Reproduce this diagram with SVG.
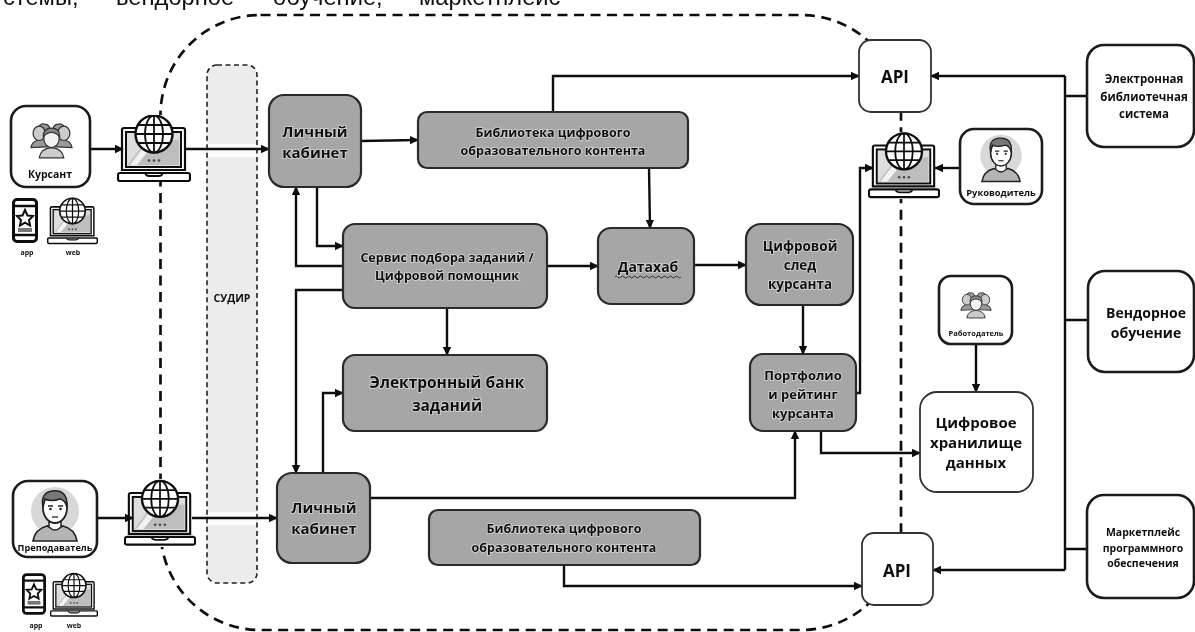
<svg xmlns="http://www.w3.org/2000/svg" width="1195" height="632" viewBox="0 0 1195 632">
<style>
text{font-family:"Open Sans","DejaVu Sans",sans-serif;font-weight:700;fill:#111;text-anchor:middle}
.top{font-family:"Liberation Sans",Arial,sans-serif;font-weight:400;font-size:23.7px;text-anchor:start;fill:#111}
.g{fill:#a6a6a6;stroke:#2a2a2a;stroke-width:2.2}
.g~text{paint-order:stroke;stroke:#d8d8d8;stroke-width:1.6px}
.w{fill:#fff;stroke:#1a1a1a;stroke-width:2.6}
.t{fill:#fff;stroke:#333;stroke-width:1.8}
.c{fill:none;stroke:#111;stroke-width:2.4;stroke-linejoin:miter}
.a{marker-end:url(#ah)}
.d{fill:none;stroke:#111;stroke-width:2.7;stroke-dasharray:10 6.5}
.s{fill:#ececec;stroke:#222;stroke-width:1.6;stroke-dasharray:5 3.5}
</style>
<defs>
<filter id="soft" x="0" y="0" width="100%" height="100%"><feGaussianBlur stdDeviation="0.45"/></filter>
<marker id="ah" markerUnits="userSpaceOnUse" markerWidth="10" markerHeight="10" refX="8" refY="5" orient="auto"><path d="M0 0.8L9 5L0 9.2z" fill="#111"/></marker>
<symbol id="laptop" viewBox="0 0 74 67">
<rect x="-1" y="-4" width="76" height="76" fill="#fff"/>
<path d="M5 55V15q0-2 2-2H66q2 0 2 2V55z" fill="#fff" stroke="#111" stroke-width="2.2"/>
<rect x="9" y="17" width="55" height="35" fill="#ddd" stroke="#111" stroke-width="2"/>
<path d="M11 50L30 25H62V50z" fill="#bdbdbd"/><path d="M13 50L28 30H36L20 50z" fill="#f2f2f2"/>
<rect x="1" y="58" width="72" height="8" rx="2" fill="#fff" stroke="#111" stroke-width="2.2"/>
<path d="M28 58q1 3 4 3H42q3 0 4-3" fill="none" stroke="#111" stroke-width="1.8"/>
<circle cx="37" cy="19" r="18.5" fill="#fff" stroke="#111" stroke-width="2.4"/>
<g fill="none" stroke="#111" stroke-width="1.8"><ellipse cx="37" cy="19" rx="9" ry="18.5"/><path d="M37 .5V37.500M18.500 19H55.500M21 10H53M21 28H53"/></g>
<g fill="#444"><circle cx="32" cy="45.500" r="1.300"/><circle cx="37" cy="45.500" r="1.300"/><circle cx="42" cy="45.500" r="1.300"/></g>
</symbol>
<symbol id="phone" viewBox="0 0 26 45">
<rect x="1.500" y="1.500" width="23" height="42" rx="3.500" fill="#fff" stroke="#111" stroke-width="3"/>
<path d="M2 8H24M2 37H24" stroke="#111" stroke-width="2.400"/>
<path d="M13 12l2.500 5.500 5.500.5-4 4 1 5.500-5-2.800-5 2.800 1-5.500-4-4 5.500-.5z" fill="#fff" stroke="#111" stroke-width="2"/>
<rect x="6" y="30" width="14" height="4" fill="#777"/>
</symbol>
<symbol id="man" viewBox="0 0 60 60">
<circle cx="30" cy="26" r="24" fill="#d8d8d8"/>
<path d="M8 56q2-12 14-15l8 3 8-3q12 3 14 15z" fill="#b5b5b5" stroke="#222" stroke-width="1.700"/>
<path d="M24 33V42q6 6 12 0V33" fill="#fff" stroke="#222" stroke-width="1.500"/>
<ellipse cx="30" cy="23" rx="12" ry="15" fill="#fff" stroke="#222" stroke-width="1.800"/>
<path d="M18 22Q15 8 27 6Q43 4 42 22Q40 15 35 14Q26 17 20 14Q19 17 18 22z" fill="#777" stroke="#222" stroke-width="1.500"/>
<path d="M23 21h5M33 21h5" stroke="#222" stroke-width="1.500"/><circle cx="25.500" cy="24" r="1.300" fill="#222"/><circle cx="35.500" cy="24" r="1.300" fill="#222"/><path d="M27 32h6" stroke="#222" stroke-width="1.300"/>
</symbol>
<symbol id="trio" viewBox="0 0 42 36">
<g stroke="#333" stroke-width="1.200">
<path d="M1 25q1-6 6-7V8q2-7 7-6 6 0 6 8v14z" fill="#9a9a9a"/><path d="M41 25q-1-6-6-7V8q-2-7-7-6-6 0-6 8v14z" fill="#9a9a9a"/>
<ellipse cx="9" cy="11" rx="6" ry="7" fill="#ccc"/><ellipse cx="33" cy="11" rx="6" ry="7" fill="#ccc"/>
<path d="M9 35q1-9 12-10 11 1 12 10z" fill="#ccc"/>
<ellipse cx="21" cy="16" rx="7.500" ry="9" fill="#f2f2f2"/>
<path d="M13 14q0-8 8-8 8 0 8 8-4-4-8-4-4 0-8 4z" fill="#888"/>
</g>
</symbol>
</defs>
<g filter="url(#soft)">
<rect width="1195" height="632" fill="#fff"/>
<text class="top" y="5"><tspan x="3">стемы,</tspan><tspan x="116">вендорное</tspan><tspan x="273">обучение,</tspan><tspan x="419">маркетплейс</tspan></text>
<g id="boundary"><rect class="d" x="160.500" y="15" width="740.500" height="615" rx="100" ry="100"/></g>
<g id="sudir"><rect class="s" x="207" y="65" width="50" height="518" rx="10"/><rect x="208" y="144" width="48" height="13" fill="#fafafa"/><rect x="208" y="512" width="48" height="13" fill="#fafafa"/><text x="232" y="302" font-size="10.500">СУДИР</text></g>
<g id="laptop-kursant"><use href="#laptop" x="117" y="115" width="74" height="67"/></g>
<g id="laptop-prepod"><use href="#laptop" x="124" y="479" width="72" height="68"/></g>
<g id="laptop-ruk"><use href="#laptop" x="868" y="132" width="72" height="67"/></g>
<g id="connectors">
<path class="c a" d="M90 149H123"/><path class="c a" d="M185 149H269"/>
<path class="c a" d="M97 518H133"/><path class="c a" d="M192 518H277"/>
<path class="c a" d="M361 141L418 140"/>
<path class="c a" d="M553 112V76H859"/>
<path class="c a" d="M649 168L650 228"/>
<path class="c a" d="M317 187V246H343"/>
<path class="c a" d="M343 266H296V187"/>
<path class="c a" d="M343 290H296V473"/>
<path class="c a" d="M547 266H598"/>
<path class="c a" d="M447 308V355"/>
<path class="c a" d="M323 473V393H343"/>
<path class="c a" d="M694 265H746"/>
<path class="c a" d="M803 305V354"/>
<path class="c a" d="M856 393H860V168H873"/>
<path class="c a" d="M370 498H795V431"/>
<path class="c a" d="M821 431V453H920"/>
<path class="c a" d="M976 344V392"/>
<path class="c a" d="M960 168H935"/>
<path class="c a" d="M564 565V586H862"/>
<path class="c" d="M1065 76V570"/>
<path class="c a" d="M1065 76H931"/><path class="c a" d="M1065 570H933"/>
<path class="c" d="M1087 96H1065M1088 320H1065M1087 549H1065"/>
</g>
<g id="kursant"><rect class="w" x="11" y="106" width="79" height="81" rx="15"/><use href="#trio" x="30" y="122" width="43" height="37"/><text x="50" y="178" font-size="10.500">Курсант</text></g>
<g id="app-kursant"><use href="#phone" x="12" y="198" width="26" height="45"/><text x="27" y="255" font-size="7">app</text></g>
<g id="web-kursant"><use href="#laptop" x="47" y="197" width="51" height="48"/><text x="73" y="255" font-size="7">web</text></g>
<g id="prepod"><rect class="w" x="13" y="481" width="84" height="76" rx="15"/><use href="#man" x="25" y="485" width="60" height="60"/><text x="55" y="551" font-size="9.200">Преподаватель</text></g>
<g id="app-prepod"><use href="#phone" x="22" y="573" width="24" height="42"/><text x="36" y="628" font-size="7">app</text></g>
<g id="web-prepod"><use href="#laptop" x="50" y="572" width="48" height="46"/><text x="74" y="628" font-size="7">web</text></g>
<g id="lk1"><rect class="g" x="269" y="95" width="92" height="92" rx="15"/><text x="315" y="137" font-size="15">Личный</text><text x="315" y="158" font-size="15">кабинет</text></g>
<g id="lib1"><rect class="g" x="418" y="112" width="270" height="56" rx="9"/><text x="553" y="137" font-size="12.500">Библиотека цифрового</text><text x="553" y="155" font-size="12.500">образовательного контента</text></g>
<g id="servis"><rect class="g" x="343" y="224" width="204" height="84" rx="12"/><text x="447" y="262" font-size="12.500">Сервис подбора заданий /</text><text x="447" y="280" font-size="12.500">Цифровой помощник</text></g>
<g id="datahub"><rect class="g" x="598" y="228" width="96" height="76" rx="13"/><text x="648" y="272" font-size="14">Датахаб</text><path d="M615 277q1.500-2 3-0t3 0 3 0 3 0 3 0 3 0 3 0 3 0 3 0 3 0 3 0 3 0 3 0 3 0 3 0 3 0 3 0 3 0 3 0 3 0 3 0 3 0" fill="none" stroke="#333" stroke-width="1"/></g>
<g id="bank"><rect class="g" x="343" y="355" width="204" height="76" rx="12"/><text x="447" y="388" font-size="15.500">Электронный банк</text><text x="447" y="411" font-size="15.500">заданий</text></g>
<g id="sled"><rect class="g" x="746" y="224" width="107" height="81" rx="15"/><text x="800" y="251" font-size="13.500">Цифровой</text><text x="800" y="270" font-size="13.500">след</text><text x="800" y="289" font-size="13.500">курсанта</text></g>
<g id="portfolio"><rect class="g" x="750" y="354" width="106" height="77" rx="13"/><text x="803" y="380" font-size="13">Портфолио</text><text x="803" y="399" font-size="13">и рейтинг</text><text x="803" y="418" font-size="13">курсанта</text></g>
<g id="employer"><rect class="w" x="939" y="276" width="73" height="68" rx="12"/><use href="#trio" x="960" y="290" width="32" height="30"/><text x="976" y="336" font-size="7.500">Работодатель</text></g>
<g id="storage"><rect class="t" x="920" y="392" width="113" height="100" rx="17"/><text x="976" y="428" font-size="15">Цифровое</text><text x="976" y="448" font-size="15">хранилище</text><text x="976" y="468" font-size="15">данных</text></g>
<g id="api1"><rect class="t" x="859" y="40" width="72" height="72" rx="12"/><text x="895" y="83" font-size="17">API</text></g>
<g id="api2"><rect class="t" x="862" y="533" width="71" height="72" rx="12"/><text x="897" y="577" font-size="17">API</text></g>
<g id="ruk"><rect class="w" x="960" y="129" width="82" height="75" rx="14"/><use href="#man" x="975" y="133" width="52" height="52"/><text x="1001" y="196" font-size="9.300">Руководитель</text></g>
<g id="els"><rect class="w" x="1087" y="45" width="107" height="102" rx="17"/><text x="1144" y="83" font-size="11.500">Электронная</text><text x="1144" y="101" font-size="11.500">библиотечная</text><text x="1144" y="118" font-size="11.500">система</text></g>
<g id="vendor"><rect class="w" x="1088" y="271" width="106" height="101" rx="17"/><text x="1146" y="318" font-size="14">Вендорное</text><text x="1146" y="338" font-size="14">обучение</text></g>
<g id="market"><rect class="w" x="1087" y="495" width="107" height="103" rx="17"/><text x="1143" y="536" font-size="10.500">Маркетплейс</text><text x="1143" y="552" font-size="10.500">программного</text><text x="1143" y="567" font-size="10.500">обеспечения</text></g>
<g id="lk2"><rect class="g" x="277" y="473" width="93" height="90" rx="15"/><text x="324" y="513" font-size="15">Личный</text><text x="324" y="534" font-size="15">кабинет</text></g>
<g id="lib2"><rect class="g" x="429" y="510" width="271" height="55" rx="9"/><text x="564" y="533" font-size="12.500">Библиотека цифрового</text><text x="564" y="552" font-size="12.500">образовательного контента</text></g>
</g>
</svg>
